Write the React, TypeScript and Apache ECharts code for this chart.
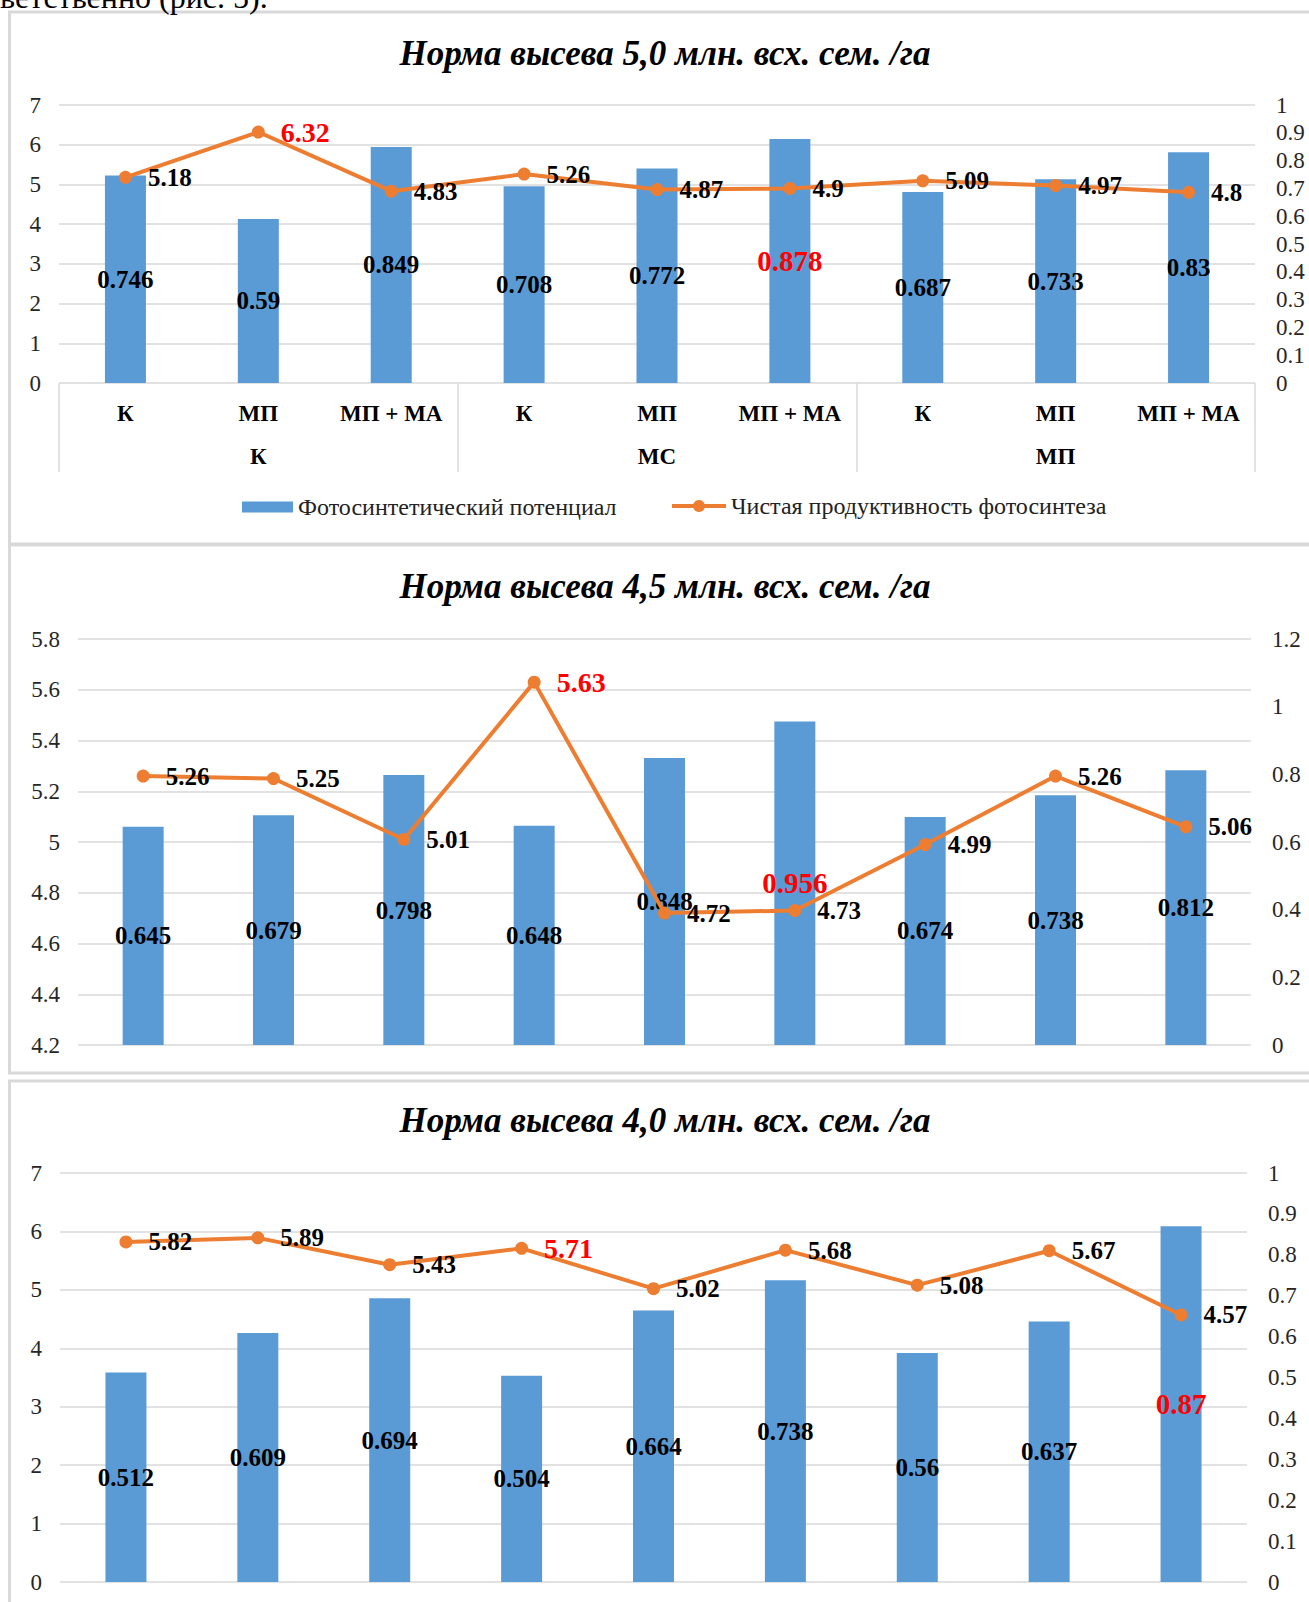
import React, { useEffect, useRef } from "react";
import * as echarts from "echarts";

const subCategories = ["К", "МП", "МП + МА", "К", "МП", "МП + МА", "К", "МП", "МП + МА"];
const groupCategories = ["К", "МС", "МП"];

const titles = [
  "Норма высева 5,0 млн. всх. сем. /га",
  "Норма высева 4,5 млн. всх. сем. /га",
  "Норма высева 4,0 млн. всх. сем. /га",
];
const topText = "ветственно (рис. 5).";
const barName = "Фотосинтетический потенциал";
const lineName = "Чистая продуктивность фотосинтеза";

const potential50 = [0.746, 0.59, 0.849, 0.708, 0.772, 0.878, 0.687, 0.733, 0.83];
const productivity50 = [5.18, 6.32, 4.83, 5.26, 4.87, 4.9, 5.09, 4.97, 4.8];
const potential45 = [0.645, 0.679, 0.798, 0.648, 0.848, 0.956, 0.674, 0.738, 0.812];
const productivity45 = [5.26, 5.25, 5.01, 5.63, 4.72, 4.73, 4.99, 5.26, 5.06];
const potential40 = [0.512, 0.609, 0.694, 0.504, 0.664, 0.738, 0.56, 0.637, 0.87];
const productivity40 = [5.82, 5.89, 5.43, 5.71, 5.02, 5.68, 5.08, 5.67, 4.57];

const redBarIndex = [5, 5, 8];
const redLineIndex = [1, 3, 3];

const leftTicks = [
  { min: 0, max: 7, interval: 1 },
  { min: 4.2, max: 5.8, interval: 0.2 },
  { min: 0, max: 7, interval: 1 },
];
const rightTicks = [
  { min: 0, max: 1, interval: 0.1 },
  { min: 0, max: 1.2, interval: 0.2 },
  { min: 0, max: 1, interval: 0.1 },
];

const FONT = '"Liberation Serif", "Times New Roman", serif';
const BLUE = "#5B9BD5";
const ORANGE = "#ED7D31";
const GRID = "#D9D9D9";
const AXIS_TEXT = "#262626";

const grids = [
  { left: 59, right: 54, top: 105, height: 278 },
  { left: 78, right: 58, top: 639, height: 406 },
  { left: 60, right: 62, top: 1173, height: 409 },
];
const titleY = [53, 586, 1120];

export default function App() {
  const ref = useRef<HTMLDivElement>(null);

  useEffect(() => {
    if (!ref.current) return;
    const chart = echarts.init(ref.current, null, { renderer: "svg" });

    const potentials = [potential50, potential45, potential40];
    const productivities = [productivity50, productivity45, productivity40];

    const xAxes: any[] = [];
    const yAxes: any[] = [];
    const series: any[] = [];
    const xIndexForGrid: number[] = [];

    grids.forEach((g, i) => {
      xIndexForGrid.push(xAxes.length);
      xAxes.push({
        type: "category",
        gridIndex: i,
        data: subCategories,
        position: "bottom",
        axisLine: { show: false },
        axisTick: { show: false },
        axisLabel: {
          show: i === 0,
          interval: 0,
          margin: 19,
          fontFamily: FONT,
          fontSize: 23,
          fontWeight: "bold",
          color: "#000",
        },
      });
      if (i === 0) {
        xAxes.push({
          type: "category",
          gridIndex: 0,
          data: groupCategories,
          position: "bottom",
          boundaryGap: true,
          axisLine: { show: false },
          axisTick: { show: true, interval: 0, length: 89, lineStyle: { color: GRID, width: 1.5 } },
          axisLabel: {
            interval: 0,
            margin: 62,
            fontFamily: FONT,
            fontSize: 23,
            fontWeight: "bold",
            color: "#000",
          },
        });
      }
      yAxes.push({
        type: "value",
        gridIndex: i,
        position: "left",
        ...leftTicks[i],
        axisLine: { show: false },
        axisTick: { show: false },
        splitLine: { show: true, lineStyle: { color: GRID, width: 1.5 } },
        axisLabel: { margin: 18, fontFamily: FONT, fontSize: 23, color: AXIS_TEXT },
      });
      yAxes.push({
        type: "value",
        gridIndex: i,
        position: "right",
        ...rightTicks[i],
        axisLine: { show: false },
        axisTick: { show: false },
        splitLine: { show: false },
        axisLabel: { margin: 21, fontFamily: FONT, fontSize: 23, color: AXIS_TEXT },
      });

      series.push({
        type: "bar",
        name: barName,
        xAxisIndex: xIndexForGrid[i],
        yAxisIndex: i * 2 + 1,
        barWidth: 41,
        itemStyle: { color: BLUE },
        label: {
          show: true,
          position: "inside",
          fontFamily: FONT,
          fontSize: 25,
          fontWeight: "bold",
          color: "#000",
        },
        data: potentials[i].map((v, k) =>
          k === redBarIndex[i]
            ? { value: v, label: { color: "#FF0000", fontSize: 29 } }
            : v
        ),
        z: 2,
      });
      series.push({
        type: "line",
        name: lineName,
        xAxisIndex: xIndexForGrid[i],
        yAxisIndex: i * 2,
        symbol: "circle",
        symbolSize: 13,
        lineStyle: { color: ORANGE, width: 4 },
        itemStyle: { color: ORANGE },
        label: {
          show: true,
          position: "right",
          distance: 16,
          fontFamily: FONT,
          fontSize: 25,
          fontWeight: "bold",
          color: "#000",
        },
        data: productivities[i].map((v, k) =>
          k === redLineIndex[i]
            ? { value: v, label: { color: "#FF0000", fontSize: 28 } }
            : v
        ),
        z: 3,
      });
    });

    const border = (y: number, h: number) => ({
      type: "rect",
      shape: { x: 9.5, y, width: 1330, height: h },
      style: { fill: "none", stroke: GRID, lineWidth: 3 },
      silent: true,
    });

    const graphic: any[] = [
      border(12, 532),
      border(545, 528),
      border(1081, 600),
      {
        type: "text",
        style: {
          text: topText,
          x: 0,
          y: -3,
          verticalAlign: "middle",
          font: `32px ${FONT}`,
          fill: "#000",
        },
      },
      ...titles.map((t, i) => ({
        type: "text",
        style: {
          text: t,
          x: 665,
          y: titleY[i],
          align: "center",
          verticalAlign: "middle",
          font: `italic bold 35px ${FONT}`,
          fill: "#000",
        },
      })),
    ];

    const legendText = { fontFamily: FONT, fontSize: 24, color: "#222" };

    chart.setOption({
      animation: false,
      backgroundColor: "#fff",
      grid: grids.map((g) => ({ ...g, containLabel: false })),
      xAxis: xAxes,
      yAxis: yAxes,
      legend: [
        {
          left: 237,
          top: 490,
          itemWidth: 51,
          itemHeight: 11,
          textStyle: legendText,
          data: [{ name: barName, icon: "rect" }],
        },
        {
          left: 665,
          top: 489,
          itemWidth: 54,
          itemHeight: 15,
          lineStyle: { width: 4 },
          textStyle: legendText,
          data: [{ name: lineName }],
        },
      ],
      series,
      graphic,
    });

    return () => chart.dispose();
  }, []);

  return (
    <div
      ref={ref}
      style={{ position: "absolute", left: 0, top: 0, width: 1309, height: 1602, background: "#fff" }}
    />
  );
}
